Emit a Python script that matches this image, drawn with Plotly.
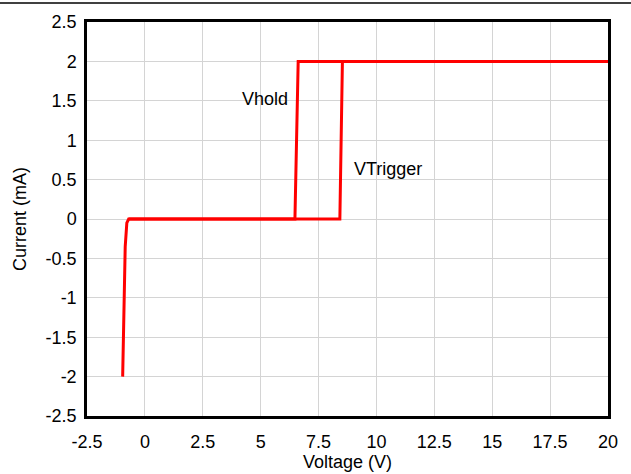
import plotly.graph_objects as go

# Hysteresis I-V curve: forward sweep (trigger) and return sweep (hold)
trigger_v = [-0.96, -0.90, -0.85, -0.78, -0.70, 8.42, 8.53, 20.0]
trigger_i = [-2.0, -1.0, -0.35, -0.05, 0.0, 0.0, 2.0, 2.0]
hold_v = [20.0, 6.62, 6.48, -0.70]
hold_i = [2.0, 2.0, 0.0, 0.0]

x_ticks = [-2.5, 0, 2.5, 5, 7.5, 10, 12.5, 15, 17.5, 20]
y_ticks = [-2.5, -2, -1.5, -1, -0.5, 0, 0.5, 1, 1.5, 2, 2.5]

red = "#ff0000"
font = dict(family="Liberation Sans, Arial, sans-serif", size=18, color="black")

fig = go.Figure()
fig.add_trace(go.Scatter(x=trigger_v, y=trigger_i, mode="lines",
                         line=dict(color=red, width=3), showlegend=False))
fig.add_trace(go.Scatter(x=hold_v, y=hold_i, mode="lines",
                         line=dict(color=red, width=3), showlegend=False))

fig.add_annotation(x=5.18, y=1.52, text="Vhold", showarrow=False, font=font)
fig.add_annotation(x=10.49, y=0.64, text="VTrigger", showarrow=False, font=font)

# rule across the top of the page
fig.add_shape(type="line", xref="paper", yref="paper",
              x0=-0.17, x1=1.05, y0=1.048, y1=1.048,
              line=dict(color="black", width=1.5))

axis_common = dict(showgrid=True, gridcolor="#d4d4d4", gridwidth=1,
                   showline=True, linecolor="black", linewidth=2.5, mirror=True,
                   zeroline=False, ticks="", tickfont=font)

fig.update_xaxes(range=[-2.5, 20], tickvals=x_ticks,
                 ticktext=[f"{v:g}" for v in x_ticks],
                 ticklabelstandoff=8,
                 title=dict(text="Voltage (V)", font=font, standoff=2),
                 **axis_common)
fig.update_yaxes(range=[-2.5, 2.5], tickvals=y_ticks,
                 ticktext=[f"{v:g}" for v in y_ticks],
                 ticklabelstandoff=4,
                 title=dict(text="Current (mA)", font=font, standoff=15),
                 **axis_common)

fig.update_layout(width=631, height=474,
                  margin=dict(l=87, r=23, t=22, b=58, autoexpand=False),
                  plot_bgcolor="white", paper_bgcolor="white",
                  font=font)

fig.write_html("out.html")
